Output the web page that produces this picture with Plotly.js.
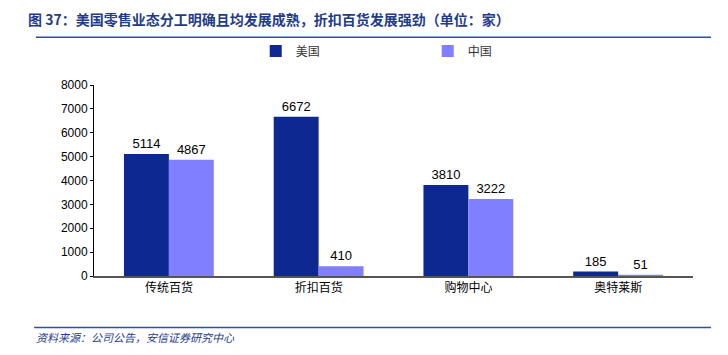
<!DOCTYPE html>
<html><head><meta charset="utf-8">
<script src="https://cdn.plot.ly/plotly-3.0.1.min.js"></script>
<style>body{margin:0;background:#fff}#chart{width:728px;height:355px}</style>
</head><body><div id="chart"></div>
<script>
const categories = ['传统百货', '折扣百货', '购物中心', '奥特莱斯'];
const usValues = [5114, 6672, 3810, 185];
const cnValues = [4867, 410, 3222, 51];
const seriesNames = ['美国', '中国'];
const yTicks = [0, 1000, 2000, 3000, 4000, 5000, 6000, 7000, 8000];

const cjk = '"Noto Sans CJK SC", sans-serif';
const labelFont = {family: 'Arial, "Liberation Sans", sans-serif', size: 13, color: '#000'};

const traces = [
  {type: 'bar', name: seriesNames[0], x: categories, y: usValues, marker: {color: '#0D2891'},
   text: usValues.map(String), textposition: 'outside', textfont: labelFont, cliponaxis: false},
  {type: 'bar', name: seriesNames[1], x: categories, y: cnValues, marker: {color: '#7F7FFF'},
   text: cnValues.map(String), textposition: 'outside', textfont: labelFont, cliponaxis: false}
];

const layout = {
  width: 728, height: 355,
  margin: {l: 94, r: 35, t: 85, b: 79},
  paper_bgcolor: '#fff', plot_bgcolor: '#fff',
  barmode: 'group', bargap: 0.4, bargroupgap: 0,
  showlegend: true,
  legend: {orientation: 'h', x: 0.27, xanchor: 'left', y: 1.178, yanchor: 'middle',
    font: {family: cjk, size: 12, color: '#333'}, entrywidth: 127, entrywidthmode: 'pixels',
    itemwidth: 30, bgcolor: 'rgba(0,0,0,0)'},
  xaxis: {showline: true, linecolor: '#555', linewidth: 1.5, ticks: '', showgrid: false,
    tickfont: {family: cjk, size: 12, color: '#000'}, zeroline: false},
  yaxis: {range: [0, 8000], tickvals: yTicks, showline: true, linecolor: '#000', linewidth: 1,
    ticks: 'outside', ticklen: 3, tickcolor: '#000', showgrid: false, zeroline: false,
    tickfont: {family: 'Arial, "Liberation Sans", sans-serif', size: 12, color: '#000'}},
  annotations: [
    {xref: 'paper', yref: 'paper', x: -0.113, y: 1.345, xanchor: 'left', yanchor: 'middle',
     text: '<b>图 37：美国零售业态分工明确且均发展成熟，折扣百货发展强劲（单位：家）</b>',
     showarrow: false, font: {family: cjk, size: 14, color: '#1F3C88'}},
    {xref: 'paper', yref: 'paper', x: -0.1, y: -0.32, xanchor: 'left', yanchor: 'middle',
     text: '<i>资料来源：公司公告，安信证券研究中心</i>',
     showarrow: false, font: {family: cjk, size: 11, color: '#1F3C88'}}
  ],
  shapes: [
    {type: 'line', xref: 'paper', yref: 'paper', x0: -0.097, x1: 1.03, y0: 1.25, y1: 1.25,
     line: {color: '#2F4F9F', width: 1.5}},
    {type: 'line', xref: 'paper', yref: 'paper', x0: -0.1, x1: 1.03, y0: -0.27, y1: -0.27,
     line: {color: '#2F4F9F', width: 1.5}}
  ]
};

Plotly.newPlot('chart', traces, layout, {displayModeBar: false, staticPlot: true});
</script></body></html>
